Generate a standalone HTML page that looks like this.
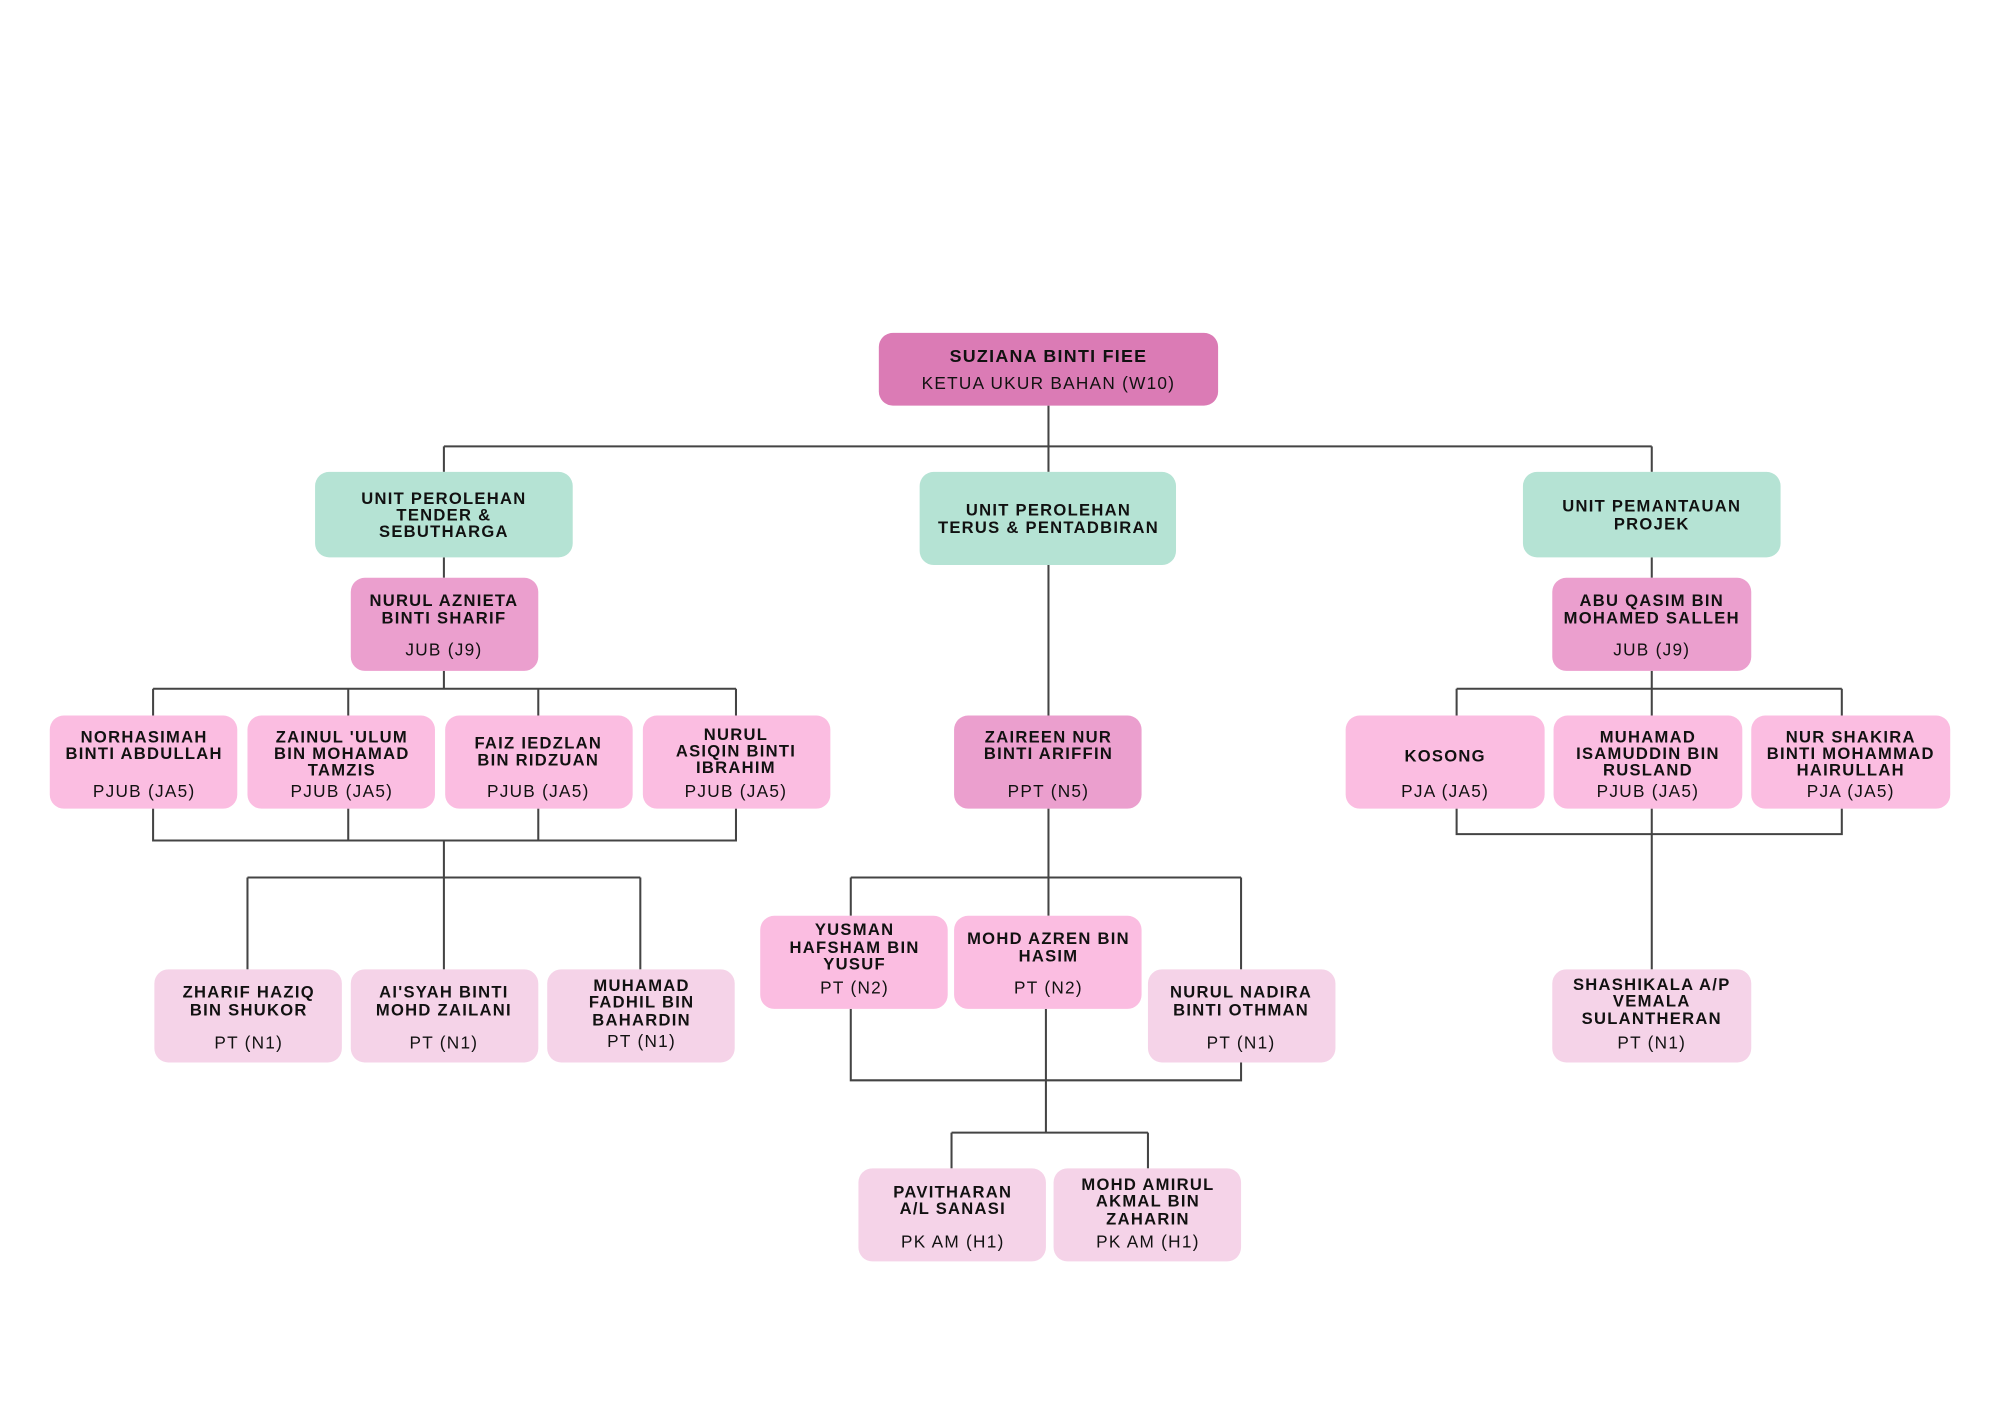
<!DOCTYPE html>
<html><head><meta charset="utf-8"><style>
html,body{margin:0;padding:0;background:#fff;}
svg{display:block;}
text{font-family:"Liberation Sans",sans-serif;text-anchor:middle;fill:#111;}
.b{font-weight:bold;font-size:13px;letter-spacing:1px;}
.s{font-size:13.5px;letter-spacing:1px;}
</style></head><body>
<svg width="2000" height="1415" viewBox="0 0 1568 1109.4" xmlns="http://www.w3.org/2000/svg">
<g stroke="#444" stroke-width="1.6" fill="none">
<path d="M822 318V370M348 350H1295M348 350V370M1295 350V370"/>
<path d="M348 437V453M348 526V540M120 540H577M120 540V561M273 540V561M422 540V561M577 540V561"/>
<path d="M120 634V659H577V634M273 634V659M422 634V659M348 659V688M194 688H502M194 688V760M348 688V760M502 688V760"/>
<path d="M822 443V561M822 634V718M667 688H973M667 688V718M973 688V760"/>
<path d="M667 791V847H973V833M820 791V888M746 888H900M746 888V916M900 888V916"/>
<path d="M1295 437V453M1295 526V540M1142 540H1444M1142 540V561M1295 540V561M1444 540V561"/>
<path d="M1142 634V654H1444V634M1295 634V760"/>
</g>
<rect x="689" y="261" width="266" height="57" rx="11" fill="#db7bb5"/>
<text class="b" x="822" y="284" style="font-size:14px">SUZIANA BINTI FIEE</text>
<text class="s" x="822" y="305">KETUA UKUR BAHAN (W10)</text>
<g fill="#b5e3d4">
<rect x="247" y="370" width="202" height="67" rx="11"/>
<rect x="721" y="370" width="201" height="73" rx="11"/>
<rect x="1194" y="370" width="202" height="67" rx="11"/>
</g>
<text class="b" x="348" y="395">UNIT PEROLEHAN</text>
<text class="b" x="348" y="408">TENDER &amp;</text>
<text class="b" x="348" y="421">SEBUTHARGA</text>
<text class="b" x="822" y="404">UNIT PEROLEHAN</text>
<text class="b" x="822" y="418">TERUS &amp; PENTADBIRAN</text>
<text class="b" x="1295" y="401">UNIT PEMANTAUAN</text>
<text class="b" x="1295" y="415">PROJEK</text>
<g fill="#eb9fce">
<rect x="275" y="453" width="147" height="73" rx="11"/>
<rect x="1217" y="453" width="156" height="73" rx="11"/>
<rect x="748" y="561" width="147" height="73" rx="11"/>
</g>
<g fill="#fbbde1">
<rect x="39" y="561" width="147" height="73" rx="11"/>
<rect x="194" y="561" width="147" height="73" rx="11"/>
<rect x="349" y="561" width="147" height="73" rx="11"/>
<rect x="504" y="561" width="147" height="73" rx="11"/>
<rect x="1055" y="561" width="156" height="73" rx="11"/>
<rect x="1218" y="561" width="148" height="73" rx="11"/>
<rect x="1373" y="561" width="156" height="73" rx="11"/>
<rect x="596" y="718" width="147" height="73" rx="11"/>
<rect x="748" y="718" width="147" height="73" rx="11"/>
</g>
<g fill="#f5d3e8">
<rect x="121" y="760" width="147" height="73" rx="11"/>
<rect x="275" y="760" width="147" height="73" rx="11"/>
<rect x="429" y="760" width="147" height="73" rx="11"/>
<rect x="900" y="760" width="147" height="73" rx="11"/>
<rect x="1217" y="760" width="156" height="73" rx="11"/>
<rect x="673" y="916" width="147" height="73" rx="11"/>
<rect x="826" y="916" width="147" height="73" rx="11"/>
</g>
<text class="b" x="348" y="475">NURUL AZNIETA</text><text class="b" x="348" y="489">BINTI SHARIF</text><text class="s" x="348" y="514">JUB (J9)</text>
<text class="b" x="1295" y="475">ABU QASIM BIN</text><text class="b" x="1295" y="489">MOHAMED SALLEH</text><text class="s" x="1295" y="514">JUB (J9)</text>
<text class="b" x="113" y="582">NORHASIMAH</text><text class="b" x="113" y="595">BINTI ABDULLAH</text><text class="s" x="113" y="625">PJUB (JA5)</text>
<text class="b" x="268" y="582">ZAINUL 'ULUM</text><text class="b" x="268" y="595">BIN MOHAMAD</text><text class="b" x="268" y="608">TAMZIS</text><text class="s" x="268" y="625">PJUB (JA5)</text>
<text class="b" x="422" y="587">FAIZ IEDZLAN</text><text class="b" x="422" y="600">BIN RIDZUAN</text><text class="s" x="422" y="625">PJUB (JA5)</text>
<text class="b" x="577" y="580">NURUL</text><text class="b" x="577" y="593">ASIQIN BINTI</text><text class="b" x="577" y="606">IBRAHIM</text><text class="s" x="577" y="625">PJUB (JA5)</text>
<text class="b" x="822" y="582">ZAIREEN NUR</text><text class="b" x="822" y="595">BINTI ARIFFIN</text><text class="s" x="822" y="625">PPT (N5)</text>
<text class="b" x="1133" y="597">KOSONG</text><text class="s" x="1133" y="625">PJA (JA5)</text>
<text class="b" x="1292" y="582">MUHAMAD</text><text class="b" x="1292" y="595">ISAMUDDIN BIN</text><text class="b" x="1292" y="608">RUSLAND</text><text class="s" x="1292" y="625">PJUB (JA5)</text>
<text class="b" x="1451" y="582">NUR SHAKIRA</text><text class="b" x="1451" y="595">BINTI MOHAMMAD</text><text class="b" x="1451" y="608">HAIRULLAH</text><text class="s" x="1451" y="625">PJA (JA5)</text>
<text class="b" x="670" y="733">YUSMAN</text><text class="b" x="670" y="747">HAFSHAM BIN</text><text class="b" x="670" y="760">YUSUF</text><text class="s" x="670" y="779">PT (N2)</text>
<text class="b" x="822" y="740">MOHD AZREN BIN</text><text class="b" x="822" y="754">HASIM</text><text class="s" x="822" y="779">PT (N2)</text>
<text class="b" x="195" y="782">ZHARIF HAZIQ</text><text class="b" x="195" y="796">BIN SHUKOR</text><text class="s" x="195" y="822">PT (N1)</text>
<text class="b" x="348" y="782">AI'SYAH BINTI</text><text class="b" x="348" y="796">MOHD ZAILANI</text><text class="s" x="348" y="822">PT (N1)</text>
<text class="b" x="503" y="777">MUHAMAD</text><text class="b" x="503" y="790">FADHIL  BIN</text><text class="b" x="503" y="804">BAHARDIN</text><text class="s" x="503" y="821">PT (N1)</text>
<text class="b" x="973" y="782">NURUL NADIRA</text><text class="b" x="973" y="796">BINTI OTHMAN</text><text class="s" x="973" y="822">PT (N1)</text>
<text class="b" x="1295" y="776">SHASHIKALA A/P</text><text class="b" x="1295" y="789">VEMALA</text><text class="b" x="1295" y="803">SULANTHERAN</text><text class="s" x="1295" y="822">PT (N1)</text>
<text class="b" x="747" y="939">PAVITHARAN</text><text class="b" x="747" y="952">A/L SANASI</text><text class="s" x="747" y="978">PK AM (H1)</text>
<text class="b" x="900" y="933">MOHD AMIRUL</text><text class="b" x="900" y="946">AKMAL BIN</text><text class="b" x="900" y="960">ZAHARIN</text><text class="s" x="900" y="978">PK AM (H1)</text>
</svg>
</body></html>
